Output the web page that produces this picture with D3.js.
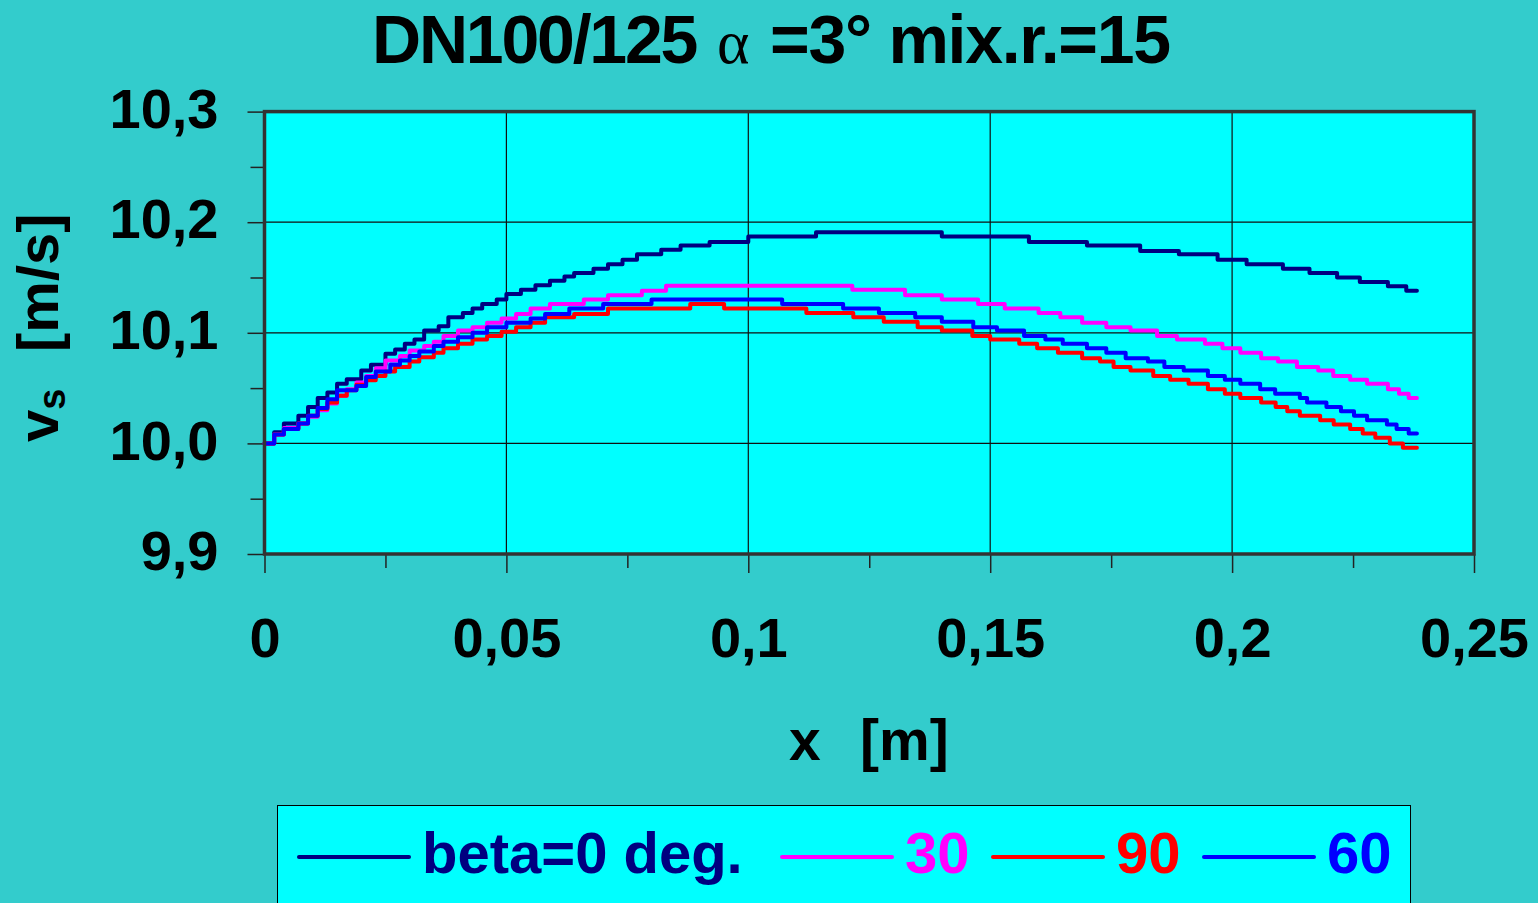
<!doctype html>
<html lang="de">
<head>
    <meta charset="utf-8">
    <title>DN100/125 alpha=3 mix.r.=15</title>
    <style type="text/css">
        body { margin: 0; background: #33cccc; }
        svg { display: block; }
        .lbl { font-family: "Liberation Sans", Arial, sans-serif; font-weight: bold; fill: #000; }
    </style>
</head>
<body>
    <script src="https://cdnjs.cloudflare.com/ajax/libs/d3/7.8.5/d3.min.js"></script>
    <div id="chart"></div>
    <script>
        // axis ticks
        var xTicks = [0, 0.05, 0.1, 0.15, 0.2, 0.25]
        var xTickLabels = ["0", "0,05", "0,1", "0,15", "0,2", "0,25"]
        var xMinor = [0.025, 0.075, 0.125, 0.175, 0.225]
        var yTicks = [9.9, 10.0, 10.1, 10.2, 10.3]
        var yTickLabels = ["9,9", "10,0", "10,1", "10,2", "10,3"]
        var yMinor = [9.95, 10.05, 10.15, 10.25]

        // series (values step-wise)
        var beta0X = [0, 0.002, 0.004, 0.007, 0.009, 0.011, 0.013, 0.015, 0.017, 0.020, 0.022, 0.025, 0.027, 0.029, 0.031, 0.033, 0.036, 0.038, 0.041, 0.043, 0.045, 0.048, 0.050, 0.053, 0.056, 0.059, 0.062, 0.064, 0.068, 0.071, 0.074, 0.077, 0.082, 0.086, 0.092, 0.100, 0.114, 0.140, 0.158, 0.170, 0.181, 0.189, 0.197, 0.203, 0.2105, 0.216, 0.2217, 0.2264, 0.2322, 0.236, 0.2382]
        var beta0V = [10.000, 10.010, 10.018, 10.025, 10.033, 10.041, 10.046, 10.054, 10.058, 10.066, 10.071, 10.081, 10.085, 10.090, 10.094, 10.102, 10.106, 10.114, 10.118, 10.122, 10.126, 10.130, 10.135, 10.139, 10.143, 10.147, 10.151, 10.154, 10.158, 10.162, 10.166, 10.171, 10.175, 10.179, 10.182, 10.187, 10.191, 10.187, 10.182, 10.179, 10.174, 10.171, 10.166, 10.162, 10.158, 10.154, 10.150, 10.146, 10.142, 10.138, 10.138]

        var beta30X = [0, 0.002, 0.004, 0.007, 0.009, 0.011, 0.013, 0.015, 0.017, 0.019, 0.021, 0.023, 0.025, 0.028, 0.030, 0.033, 0.035, 0.037, 0.040, 0.043, 0.046, 0.049, 0.052, 0.055, 0.059, 0.066, 0.071, 0.078, 0.083, 0.1215, 0.1324, 0.140, 0.1475, 0.153, 0.160, 0.1645, 0.169, 0.174, 0.179, 0.1845, 0.1886, 0.1944, 0.198, 0.2017, 0.206, 0.2095, 0.2134, 0.2178, 0.2209, 0.2244, 0.2279, 0.2322, 0.2345, 0.2365, 0.2382]
        var beta30V = [10.000, 10.008, 10.014, 10.018, 10.024, 10.030, 10.036, 10.043, 10.049, 10.055, 10.061, 10.068, 10.075, 10.079, 10.084, 10.088, 10.092, 10.097, 10.102, 10.105, 10.109, 10.113, 10.117, 10.122, 10.126, 10.130, 10.134, 10.138, 10.1425, 10.139, 10.134, 10.130, 10.126, 10.122, 10.118, 10.114, 10.109, 10.105, 10.102, 10.097, 10.094, 10.090, 10.086, 10.082, 10.077, 10.074, 10.069, 10.066, 10.061, 10.0575, 10.054, 10.049, 10.045, 10.041, 10.041]

        var beta90X = [0, 0.002, 0.004, 0.007, 0.009, 0.011, 0.013, 0.015, 0.017, 0.019, 0.021, 0.023, 0.025, 0.027, 0.030, 0.032, 0.035, 0.037, 0.040, 0.043, 0.046, 0.049, 0.052, 0.055, 0.058, 0.064, 0.071, 0.088, 0.095, 0.112, 0.1217, 0.128, 0.135, 0.140, 0.1463, 0.150, 0.156, 0.1597, 0.164, 0.169, 0.1727, 0.1755, 0.179, 0.1837, 0.1872, 0.191, 0.195, 0.1985, 0.2017, 0.206, 0.209, 0.2114, 0.214, 0.2182, 0.221, 0.2244, 0.227, 0.2296, 0.2326, 0.2353, 0.2382]
        var beta90V = [10.000, 10.008, 10.013, 10.018, 10.025, 10.031, 10.037, 10.043, 10.048, 10.053, 10.057, 10.061, 10.065, 10.069, 10.074, 10.078, 10.082, 10.086, 10.090, 10.094, 10.097, 10.101, 10.105, 10.109, 10.114, 10.117, 10.122, 10.126, 10.122, 10.118, 10.114, 10.110, 10.105, 10.102, 10.097, 10.094, 10.090, 10.086, 10.082, 10.077, 10.074, 10.069, 10.066, 10.061, 10.0575, 10.054, 10.049, 10.045, 10.041, 10.037, 10.033, 10.029, 10.025, 10.021, 10.017, 10.013, 10.009, 10.005, 10.000, 9.996, 9.996]

        var beta60X = [0, 0.002, 0.004, 0.007, 0.009, 0.011, 0.013, 0.015, 0.019, 0.021, 0.023, 0.026, 0.028, 0.030, 0.032, 0.035, 0.037, 0.040, 0.043, 0.046, 0.050, 0.055, 0.058, 0.063, 0.070, 0.080, 0.107, 0.1196, 0.127, 0.1345, 0.140, 0.1465, 0.1514, 0.157, 0.1614, 0.165, 0.170, 0.174, 0.178, 0.1826, 0.186, 0.190, 0.195, 0.1985, 0.2017, 0.2058, 0.2089, 0.214, 0.2155, 0.2195, 0.2225, 0.2252, 0.2279, 0.232, 0.234, 0.2365, 0.2382]
        var beta60V = [10.000, 10.008, 10.013, 10.018, 10.025, 10.032, 10.040, 10.048, 10.052, 10.060, 10.065, 10.071, 10.075, 10.079, 10.083, 10.088, 10.092, 10.096, 10.100, 10.105, 10.109, 10.113, 10.117, 10.122, 10.126, 10.130, 10.126, 10.122, 10.118, 10.114, 10.110, 10.105, 10.102, 10.097, 10.094, 10.090, 10.086, 10.082, 10.077, 10.074, 10.069, 10.066, 10.061, 10.0575, 10.054, 10.049, 10.045, 10.041, 10.037, 10.033, 10.029, 10.025, 10.021, 10.017, 10.013, 10.009, 10.009]

        var seriesNames = ["beta=0 deg.", "30", "90", "60"]
        var seriesColors = ["#000080", "#ff00ff", "#ff0000", "#0000ff"]
        var seriesX = [beta0X, beta30X, beta90X, beta60X]
        var seriesV = [beta0V, beta30V, beta90V, beta60V]

        var width = 1538, height = 903
        // plot box (note: "top" is a reserved global in browsers)
        var pLeft = 264.5, pRight = 1474, pTop = 111.6, pBottom = 554

        var svg = d3.select("#chart").append("svg")
            .attr("width", width)
            .attr("height", height)

        svg.append("rect").attr("width", width).attr("height", height).attr("fill", "#33cccc")

        var x = d3.scaleLinear().domain([0, 0.25]).range([pLeft, pRight])
        var y = d3.scaleLinear().domain([9.9, 10.3]).range([pBottom, pTop])

        // plot area
        svg.append("rect")
            .attr("x", pLeft).attr("y", pTop)
            .attr("width", pRight - pLeft).attr("height", pBottom - pTop)
            .attr("fill", "#00ffff")

        // grid
        svg.append("g").selectAll("line").data(xTicks.slice(1, -1)).enter().append("line")
            .attr("x1", d => x(d)).attr("x2", d => x(d))
            .attr("y1", pTop).attr("y2", pBottom)
            .attr("stroke", "#111").attr("stroke-width", 1.2)
        svg.append("g").selectAll("line").data(yTicks.slice(1, -1)).enter().append("line")
            .attr("x1", pLeft).attr("x2", pRight)
            .attr("y1", d => y(d)).attr("y2", d => y(d))
            .attr("stroke", "#111").attr("stroke-width", 1.2)

        // axes
        var yAxis = svg.append("g")
            .attr("transform", "translate(" + pLeft + ",0)")
            .call(d3.axisLeft(y).tickValues(yTicks).tickSize(17).tickPadding(29)
                .tickFormat((d, i) => yTickLabels[i]))
        svg.append("g")
            .attr("transform", "translate(" + pLeft + ",0)")
            .call(d3.axisLeft(y).tickValues(yMinor).tickSize(14).tickFormat(""))

        var xAxis = svg.append("g")
            .attr("transform", "translate(0," + pBottom + ")")
            .call(d3.axisBottom(x).tickValues(xTicks).tickSize(19).tickPadding(44)
                .tickFormat((d, i) => xTickLabels[i]))
        svg.append("g")
            .attr("transform", "translate(0," + pBottom + ")")
            .call(d3.axisBottom(x).tickValues(xMinor).tickSize(14).tickFormat(""))

        svg.selectAll(".domain").remove()
        svg.selectAll(".tick line").attr("stroke", "#222").attr("stroke-width", 1.5)
        svg.selectAll(".tick text")
            .attr("class", "lbl")
            .style("font-size", "56px")
            .attr("fill", "#000")
        yAxis.selectAll(".tick text").attr("dy", "0.28em")

        // curves
        var line = d3.line()
            .x(d => x(d[0]))
            .y(d => y(d[1]))
            .curve(d3.curveStepAfter)

        seriesNames.forEach(function (name, i) {
            var pts = seriesX[i].map((v, j) => [v, seriesV[i][j]])
            svg.append("path")
                .datum(pts)
                .attr("d", line)
                .attr("fill", "none")
                .attr("stroke", seriesColors[i])
                .attr("stroke-width", 4)
                .attr("stroke-linejoin", "round")
                .attr("stroke-linecap", "round")
        })

        // plot border
        svg.append("rect")
            .attr("x", pLeft).attr("y", pTop)
            .attr("width", pRight - pLeft).attr("height", pBottom - pTop)
            .attr("fill", "none")
            .attr("stroke", "#333").attr("stroke-width", 3.5)

        // title, in three pieces so the alpha can be a serif glyph
        // (glyphs sit tight in the original, hence the negative spacing)
        svg.append("text")
            .attr("class", "lbl")
            .attr("x", 372).attr("y", 63)
            .style("font-size", "68px")
            .style("letter-spacing", "-2.2px")
            .text("DN100/125")
        svg.append("text")
            .attr("x", 717).attr("y", 63)
            .style("font-family", "'Liberation Serif', 'DejaVu Serif', serif")
            .style("font-size", "62px")
            .attr("fill", "#000")
            .text("\u03b1")
        svg.append("text")
            .attr("class", "lbl")
            .attr("x", 770).attr("y", 63)
            .style("font-size", "68px")
            .style("letter-spacing", "-1.3px")
            .text("=3\u00b0 mix.r.=15")

        // axis titles
        var xt = svg.append("text")
            .attr("class", "lbl")
            .attr("y", 760)
            .style("font-size", "57px")
        xt.append("tspan").attr("x", 789).text("x")
        xt.append("tspan").attr("x", 860).text("[m]")

        var yt = svg.append("text")
            .attr("class", "lbl")
            .attr("transform", "translate(58,442) rotate(-90)")
            .style("font-size", "58px")
        yt.append("tspan").attr("x", 0).text("v")
        yt.append("tspan").attr("dy", 7).style("font-size", "38px").text("s")
        yt.append("tspan").attr("x", 90).attr("dy", -7).text("[m/s]")

        // legend
        svg.append("rect")
            .attr("x", 277.5).attr("y", 805.5)
            .attr("width", 1133).attr("height", 110)
            .attr("fill", "#00ffff")
            .attr("stroke", "#000").attr("stroke-width", 1)

        var legendX = [299, 782, 993, 1204]
        seriesNames.forEach(function (name, i) {
            svg.append("line")
                .attr("x1", legendX[i]).attr("x2", legendX[i] + 110)
                .attr("y1", 857).attr("y2", 857)
                .attr("stroke", seriesColors[i]).attr("stroke-width", 4)
                .attr("stroke-linecap", "round")
            svg.append("text")
                .attr("class", "lbl")
                .attr("x", legendX[i] + 123).attr("y", 873)
                .style("font-size", "58px")
                .style("fill", seriesColors[i])
                .text(name)
        })
    </script>
</body>
</html>
